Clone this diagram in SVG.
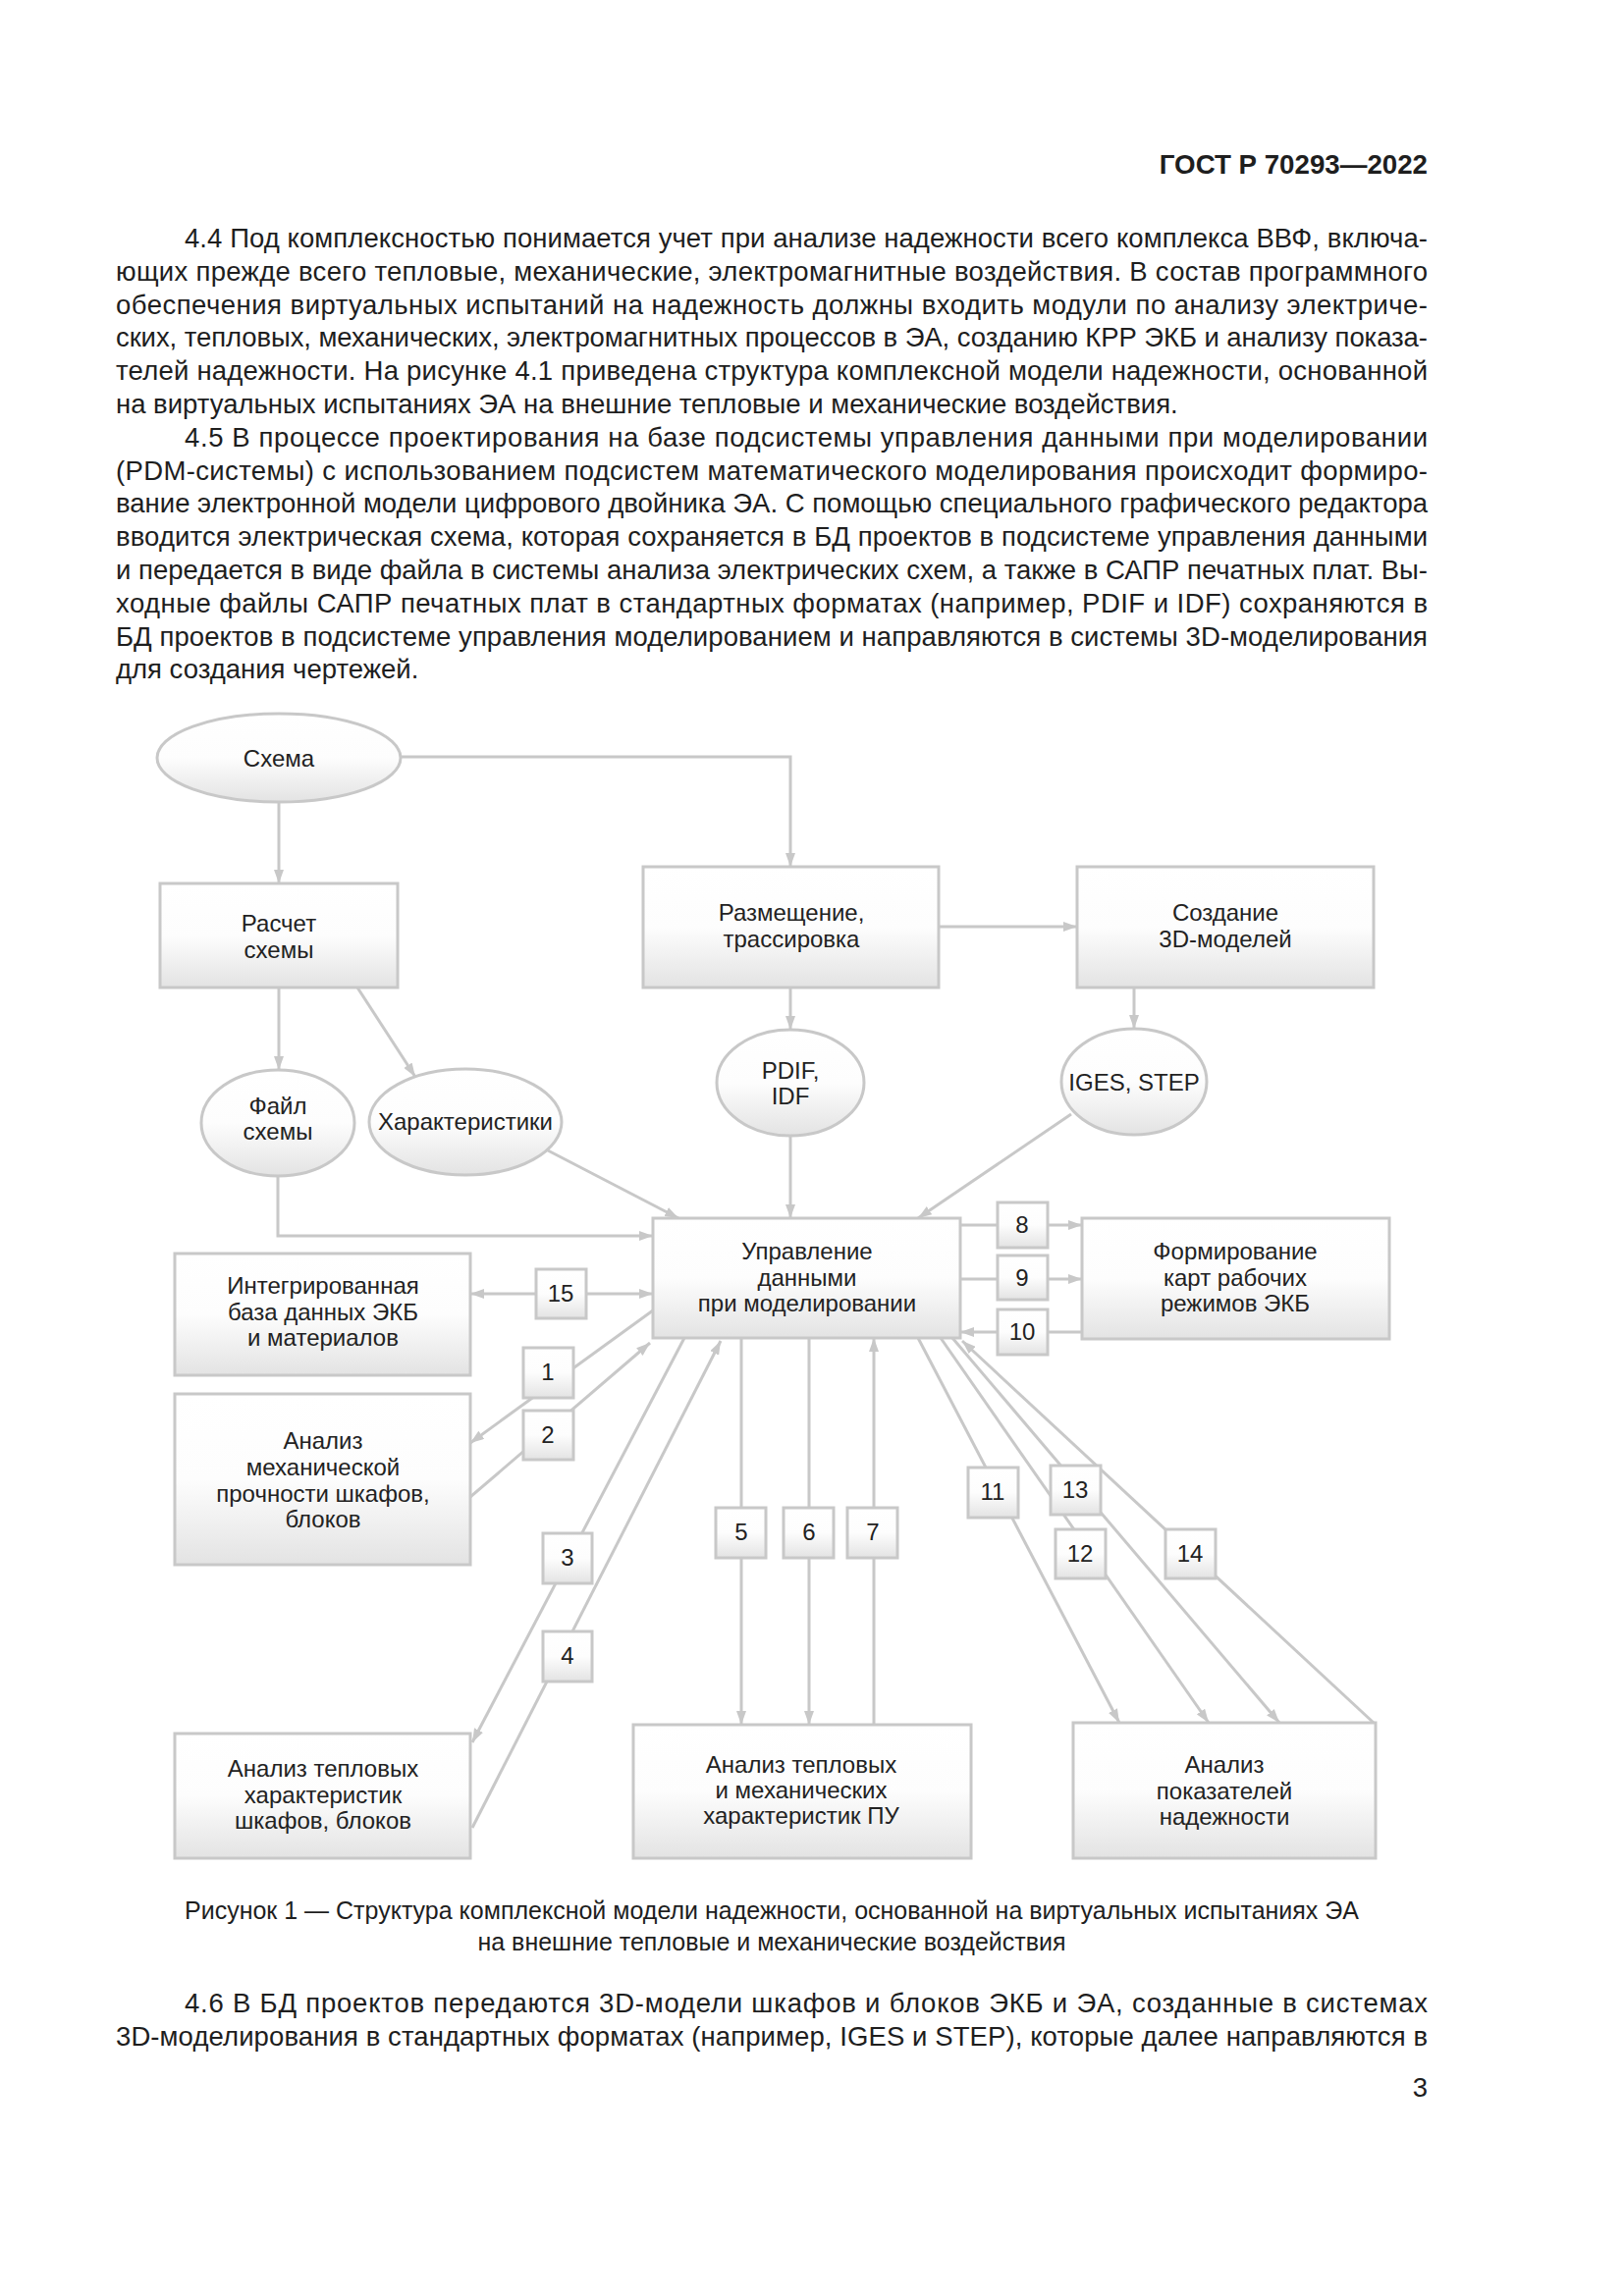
<svg xmlns="http://www.w3.org/2000/svg" width="1654" height="2339" viewBox="0 0 1654 2339">
<style>
.body{font-family:"Liberation Sans",Arial,sans-serif;font-size:27.5px;fill:#1e1e1e}
.hdr{font-family:"Liberation Sans",Arial,sans-serif;font-size:27.7px;font-weight:bold;fill:#1e1e1e}
.cap{font-family:"Liberation Sans",Arial,sans-serif;font-size:25px;fill:#1e1e1e;text-anchor:middle}
.t{font-family:"Liberation Sans",Arial,sans-serif;font-size:24px;fill:#222;text-anchor:middle}
.box{fill:url(#g);stroke:#c8c8c8;stroke-width:3}
.ln{fill:none;stroke:#c8c8c8;stroke-width:3}
.arr{marker-end:url(#ah)}
</style>
<defs>
<linearGradient id="g" x1="0" y1="0" x2="0" y2="1">
<stop offset="0" stop-color="#ffffff"/>
<stop offset="0.5" stop-color="#fdfdfd"/>
<stop offset="1" stop-color="#e3e3e3"/>
</linearGradient>
<marker id="ah" viewBox="0 0 14 10" refX="14" refY="5" markerWidth="14" markerHeight="10" markerUnits="userSpaceOnUse" orient="auto">
<path d="M0,0 L14,5 L0,10 z" fill="#c8c8c8"/>
</marker>
<marker id="as" viewBox="0 0 14 10" refX="0" refY="5" markerWidth="14" markerHeight="10" markerUnits="userSpaceOnUse" orient="auto">
<path d="M14,0 L0,5 L14,10 z" fill="#c8c8c8"/>
</marker>
</defs>
<rect width="1654" height="2339" fill="#ffffff"/>

<text class="hdr" x="1454" y="177" text-anchor="end">ГОСТ Р 70293—2022</text>

<g id="text-4-4">
<text class="body" x="188" y="252" textLength="1266" lengthAdjust="spacing">4.4 Под комплексностью понимается учет при анализе надежности всего комплекса ВВФ, включа-</text>
<text class="body" x="118" y="286" textLength="1336" lengthAdjust="spacing">ющих прежде всего тепловые, механические, электромагнитные воздействия. В состав программного</text>
<text class="body" x="118" y="320" textLength="1336" lengthAdjust="spacing">обеспечения виртуальных испытаний на надежность должны входить модули по анализу электриче-</text>
<text class="body" x="118" y="353" textLength="1336" lengthAdjust="spacing">ских, тепловых, механических, электромагнитных процессов в ЭА, созданию КРР ЭКБ и анализу показа-</text>
<text class="body" x="118" y="387" textLength="1336" lengthAdjust="spacing">телей надежности. На рисунке 4.1 приведена структура комплексной модели надежности, основанной</text>
<text class="body" x="118" y="421">на виртуальных испытаниях ЭА на внешние тепловые и механические воздействия.</text>
</g>
<g id="text-4-5">
<text class="body" x="188" y="455" textLength="1266" lengthAdjust="spacing">4.5 В процессе проектирования на базе подсистемы управления данными при моделировании</text>
<text class="body" x="118" y="489" textLength="1336" lengthAdjust="spacing">(PDM-системы) с использованием подсистем математического моделирования происходит формиро-</text>
<text class="body" x="118" y="522" textLength="1336" lengthAdjust="spacing">вание электронной модели цифрового двойника ЭА. С помощью специального графического редактора</text>
<text class="body" x="118" y="556" textLength="1336" lengthAdjust="spacing">вводится электрическая схема, которая сохраняется в БД проектов в подсистеме управления данными</text>
<text class="body" x="118" y="590" textLength="1336" lengthAdjust="spacing">и передается в виде файла в системы анализа электрических схем, а также в САПР печатных плат. Вы-</text>
<text class="body" x="118" y="624" textLength="1336" lengthAdjust="spacing">ходные файлы САПР печатных плат в стандартных форматах (например, PDIF и IDF) сохраняются в</text>
<text class="body" x="118" y="658" textLength="1336" lengthAdjust="spacing">БД проектов в подсистеме управления моделированием и направляются в системы 3D-моделирования</text>
<text class="body" x="118" y="691">для создания чертежей.</text>
</g>

<g id="connectors">
<path class="ln arr" d="M408,771 H805 V883"/>
<path class="ln arr" d="M284,817 V900"/>
<path class="ln arr" d="M284,1006 V1090"/>
<path class="ln arr" d="M364,1006 L423,1097"/>
<path class="ln arr" d="M283,1198 V1259 H665"/>
<path class="ln arr" d="M558,1172 L691,1241"/>
<path class="ln arr" d="M805,1006 V1049"/>
<path class="ln arr" d="M805,1157 V1241"/>
<path class="ln arr" d="M956,944 H1097"/>
<path class="ln arr" d="M1155,1006 V1048"/>
<path class="ln arr" d="M1091,1135 L935,1241"/>
<path class="ln arr" d="M665,1318 H479" marker-start="url(#as)"/>
<path class="ln arr" d="M665,1335 L479,1470"/>
<path class="ln arr" d="M479,1525 L662,1368"/>
<path class="ln arr" d="M697,1363 L481,1775"/>
<path class="ln arr" d="M481,1862 L734,1366"/>
<path class="ln arr" d="M755,1363 V1757"/>
<path class="ln arr" d="M824,1363 V1757"/>
<path class="ln arr" d="M890,1757 V1363"/>
<path class="ln arr" d="M978,1248 H1102"/>
<path class="ln arr" d="M978,1303 H1102"/>
<path class="ln arr" d="M1102,1357 H978"/>
<path class="ln arr" d="M935,1363 L1140,1755"/>
<path class="ln arr" d="M958,1363 L1231,1755"/>
<path class="ln arr" d="M970,1363 L1303,1755"/>
<path class="ln arr" d="M1399,1755 L980,1366"/>
</g>

<g id="n-shema"><ellipse class="box" cx="284" cy="772" rx="124" ry="45"/><text class="t" x="284" y="781">Схема</text></g>
<g id="n-raschet"><rect class="box" x="163" y="900" width="242" height="106"/><text class="t" x="284" y="949">Расчет</text><text class="t" x="284" y="976">схемы</text></g>
<g id="n-razm"><rect class="box" x="655" y="883" width="301" height="123"/><text class="t" x="806" y="938">Размещение,</text><text class="t" x="806" y="965">трассировка</text></g>
<g id="n-sozd"><rect class="box" x="1097" y="883" width="302" height="123"/><text class="t" x="1248" y="938">Создание</text><text class="t" x="1248" y="965">3D-моделей</text></g>
<g id="n-file"><ellipse class="box" cx="283" cy="1144" rx="78" ry="54"/><text class="t" x="283" y="1135">Файл</text><text class="t" x="283" y="1161">схемы</text></g>
<g id="n-char"><ellipse class="box" cx="474" cy="1143" rx="98" ry="54"/><text class="t" x="474" y="1151">Характеристики</text></g>
<g id="n-pdif"><ellipse class="box" cx="805" cy="1103" rx="75" ry="54"/><text class="t" x="805" y="1099">PDIF,</text><text class="t" x="805" y="1125">IDF</text></g>
<g id="n-iges"><ellipse class="box" cx="1155" cy="1102" rx="74" ry="54"/><text class="t" x="1155" y="1111">IGES, STEP</text></g>
<g id="n-upr"><rect class="box" x="665" y="1241" width="313" height="122"/><text class="t" x="822" y="1283">Управление</text><text class="t" x="822" y="1310">данными</text><text class="t" x="822" y="1336">при моделировании</text></g>
<g id="n-db"><rect class="box" x="178" y="1277" width="301" height="124"/><text class="t" x="329" y="1318">Интегрированная</text><text class="t" x="329" y="1345">база данных ЭКБ</text><text class="t" x="329" y="1371">и материалов</text></g>
<g id="n-mech"><rect class="box" x="178" y="1420" width="301" height="174"/><text class="t" x="329" y="1476">Анализ</text><text class="t" x="329" y="1503">механической</text><text class="t" x="329" y="1530">прочности шкафов,</text><text class="t" x="329" y="1556">блоков</text></g>
<g id="n-therm"><rect class="box" x="178" y="1766" width="301" height="127"/><text class="t" x="329" y="1810">Анализ тепловых</text><text class="t" x="329" y="1837">характеристик</text><text class="t" x="329" y="1863">шкафов, блоков</text></g>
<g id="n-pu"><rect class="box" x="645" y="1757" width="344" height="136"/><text class="t" x="816" y="1806">Анализ тепловых</text><text class="t" x="816" y="1832">и механических</text><text class="t" x="816" y="1858">характеристик ПУ</text></g>
<g id="n-rel"><rect class="box" x="1093" y="1755" width="308" height="138"/><text class="t" x="1247" y="1806">Анализ</text><text class="t" x="1247" y="1833">показателей</text><text class="t" x="1247" y="1859">надежности</text></g>
<g id="n-form"><rect class="box" x="1102" y="1241" width="313" height="123"/><text class="t" x="1258" y="1283">Формирование</text><text class="t" x="1258" y="1310">карт рабочих</text><text class="t" x="1258" y="1336">режимов ЭКБ</text></g>

<g id="labels">
<g id="l15"><rect class="box" x="546" y="1293" width="51" height="50"/><text class="t" x="571" y="1326">15</text></g>
<g id="l1"><rect class="box" x="533" y="1373" width="51" height="51"/><text class="t" x="558" y="1406">1</text></g>
<g id="l2"><rect class="box" x="533" y="1437" width="51" height="50"/><text class="t" x="558" y="1470">2</text></g>
<g id="l3"><rect class="box" x="553" y="1562" width="50" height="51"/><text class="t" x="578" y="1595">3</text></g>
<g id="l4"><rect class="box" x="553" y="1662" width="50" height="51"/><text class="t" x="578" y="1695">4</text></g>
<g id="l5"><rect class="box" x="729" y="1536" width="51" height="51"/><text class="t" x="755" y="1569">5</text></g>
<g id="l6"><rect class="box" x="798" y="1536" width="51" height="51"/><text class="t" x="824" y="1569">6</text></g>
<g id="l7"><rect class="box" x="863" y="1536" width="51" height="51"/><text class="t" x="889" y="1569">7</text></g>
<g id="l8"><rect class="box" x="1016" y="1225" width="51" height="46"/><text class="t" x="1041" y="1256">8</text></g>
<g id="l9"><rect class="box" x="1016" y="1279" width="51" height="45"/><text class="t" x="1041" y="1310">9</text></g>
<g id="l10"><rect class="box" x="1016" y="1334" width="51" height="46"/><text class="t" x="1041" y="1365">10</text></g>
<g id="l11"><rect class="box" x="986" y="1495" width="51" height="51"/><text class="t" x="1011" y="1528">11</text></g>
<g id="l13"><rect class="box" x="1070" y="1493" width="51" height="50"/><text class="t" x="1095" y="1526">13</text></g>
<g id="l12"><rect class="box" x="1075" y="1558" width="51" height="50"/><text class="t" x="1100" y="1591">12</text></g>
<g id="l14"><rect class="box" x="1187" y="1558" width="51" height="50"/><text class="t" x="1212" y="1591">14</text></g>
</g>

<text class="cap" x="786" y="1955">Рисунок 1 — Структура комплексной модели надежности, основанной на виртуальных испытаниях ЭА</text>
<text class="cap" x="786" y="1987">на внешние тепловые и механические воздействия</text>

<g id="text-4-6">
<text class="body" x="188" y="2050" textLength="1266" lengthAdjust="spacing">4.6 В БД проектов передаются 3D-модели шкафов и блоков ЭКБ и ЭА, созданные в системах</text>
<text class="body" x="118" y="2084" textLength="1336" lengthAdjust="spacing">3D-моделирования в стандартных форматах (например, IGES и STEP), которые далее направляются в</text>
</g>
<text class="body" x="1454" y="2136" text-anchor="end">3</text>
</svg>
